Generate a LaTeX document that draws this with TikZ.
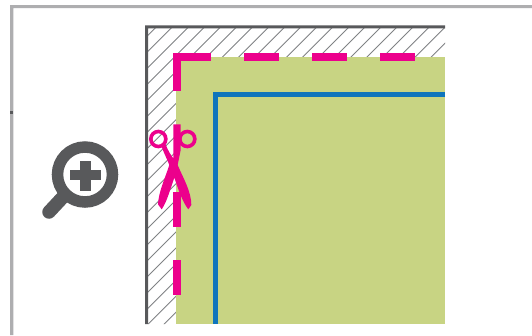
\documentclass[tikz,border=0pt]{standalone}
\definecolor{framegray}{HTML}{AEAEB0}
\definecolor{walldark}{HTML}{58595B}
\definecolor{hatchgray}{HTML}{808285}
\definecolor{leaf}{HTML}{C8D483}
\definecolor{cutblue}{HTML}{0F75BC}
\definecolor{cutpink}{HTML}{EC008C}
\tikzset{
  pinkdash/.style={line width=8pt,cutpink,line cap=butt},
  hatchline/.style={hatchgray,line width=0.9pt},
}
\begin{document}
\begin{tikzpicture}[x=1pt,y=-1pt]
\useasboundingbox (0,0) rectangle (532,335);
\fill[white] (0,0) rectangle (532,335);
% outer frame
\fill[framegray] (532,5) -- (10,5) -- (10,335) -- (13.4,335) -- (13.4,8) -- (532,8) -- cycle;
\fill[walldark] (10,111) rectangle (13.4,113.5);
% hatching
\begin{scope}
\clip (148,28) -- (445,28) -- (445,57) -- (176,57) -- (176,324) -- (148,324) -- cycle;
\foreach \k in {-1,0,...,36}{
  \draw[hatchline] ({183.3+16.05*\k},0) -- ++(-340,340);
}
\end{scope}
% leaf
\fill[leaf] (176,56.7) rectangle (445,324);
% wall
\fill[walldark] (445,25.3) -- (145,25.3) -- (145,324) -- (148.2,324) -- (148.2,28.3) -- (445,28.3) -- cycle;
% trim line
\draw[cutblue,line width=5.5pt] (445,94.5) -- (215.5,94.5) -- (215.5,324);
% cut line
\draw[pinkdash,miter limit=10] (176.7,91) -- (176.7,56.7) -- (211,56.7);
\draw[pinkdash] (244.3,56.7) -- (279,56.7);
\draw[pinkdash] (312,56.7) -- (347,56.7);
\draw[pinkdash] (380,56.7) -- (415,56.7);
\draw[pinkdash] (176.7,192.3) -- (176.7,226.7);
\draw[pinkdash] (176.7,260) -- (176.7,295);
% scissors (in zoom units)
\begin{scope}[shift={(130,115)},x=0.3333pt,y=-0.3333pt]
  \draw[cutpink,line width=3.6pt] (85,72) circle [radius=7.5pt];
  \draw[cutpink,line width=3.6pt] (172,72) circle [radius=7.5pt];
  \fill[cutpink] (130,28) -- (152,28) -- (152,105) -- (146,135) -- (143,150)
    .. controls (160,190) and (184,230) .. (184,270) -- (175,283)
    .. controls (160,265) and (145,225) .. (133,188)
    .. controls (120,225) and (110,262) .. (95,283) -- (84,268)
    .. controls (86,230) and (105,190) .. (118,150)
    .. controls (110,130) and (100,110) .. (95,95) -- (107,88)
    .. controls (113,105) and (122,120) .. (130,130) -- cycle;
\end{scope}
% magnifier
\draw[walldark,line width=11.5pt] (85,174.5) circle [radius=27.5pt];
\fill[walldark] (70,169.5) rectangle (100.7,180);
\fill[walldark] (80,160.7) rectangle (90.7,190.7);
\draw[walldark,line width=13.5pt,line cap=round] (49,212) -- (63,197);
\end{tikzpicture}
\end{document}
